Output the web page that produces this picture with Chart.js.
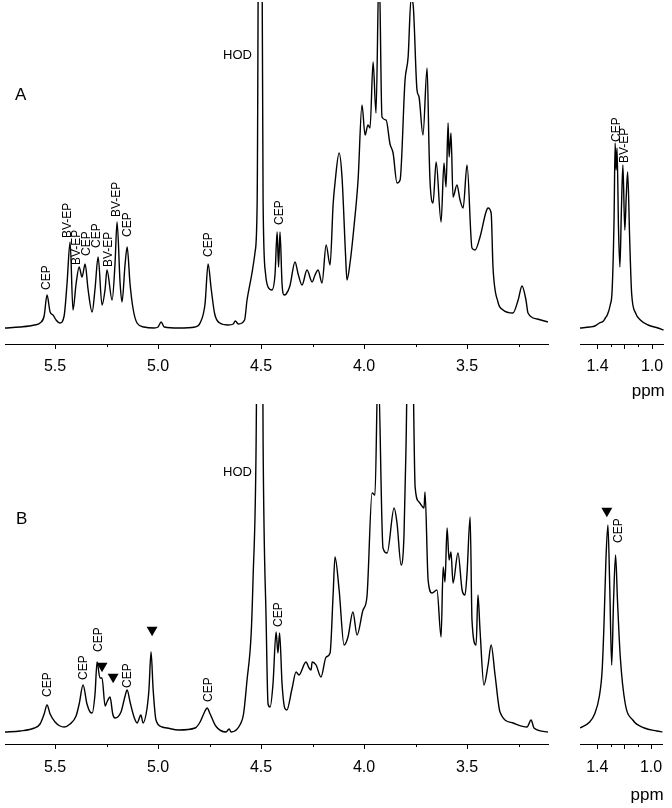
<!DOCTYPE html>
<html><head><meta charset="utf-8">
<script src="https://cdn.jsdelivr.net/npm/chart.js@4.4.1/dist/chart.umd.min.js"></script>
<style>
html,body{margin:0;padding:0;background:#fff;}
body{width:672px;height:808px;position:relative;overflow:hidden;font-family:"Liberation Sans",Arial,sans-serif;}
.box{position:absolute;}
.box canvas{display:block;}
.tag{position:absolute;font-size:17px;line-height:17px;color:#000;}
</style></head><body>
<div class="box" style="left:0;top:0;width:560px;height:420px"><canvas id="aMain" width="560" height="420"></canvas></div>
<div class="box" style="left:570px;top:0;width:102px;height:420px"><canvas id="aSide" width="102" height="420"></canvas></div>
<div class="box" style="left:0;top:400px;width:560px;height:408px"><canvas id="bMain" width="560" height="408"></canvas></div>
<div class="box" style="left:570px;top:400px;width:102px;height:408px"><canvas id="bSide" width="102" height="408"></canvas></div>
<div class="tag" style="left:15px;top:86px">A</div>
<div class="tag" style="left:16px;top:510px">B</div>
<script>
// ---------- data (chemical shift in ppm, relative intensity) ----------
const aMainPpm = [5.743,5.670,5.600,5.573,5.553,5.539,5.524,5.510,5.495,5.476,5.456,5.442,5.427,5.413,5.398,5.383,5.369,5.354,5.340,5.320,5.306,5.291,5.272,5.257,5.248,5.223,5.209,5.199,5.184,5.175,5.160,5.150,5.136,5.121,5.102,5.068,5.020,5.000,4.985,4.970,4.900,4.820,4.796,4.772,4.757,4.742,4.725,4.700,4.660,4.635,4.625,4.610,4.580,4.568,4.544,4.529,4.519,4.505,4.490,4.478,4.466,4.447,4.432,4.422,4.415,4.408,4.398,4.388,4.378,4.360,4.335,4.320,4.301,4.277,4.252,4.238,4.223,4.204,4.184,4.165,4.150,4.141,4.121,4.107,4.090,4.083,4.068,4.049,4.029,4.010,3.995,3.981,3.971,3.956,3.942,3.927,3.913,3.893,3.874,3.859,3.840,3.825,3.801,3.786,3.772,3.762,3.743,3.733,3.714,3.694,3.684,3.680,3.665,3.650,3.626,3.612,3.602,3.592,3.587,3.578,3.568,3.549,3.534,3.519,3.500,3.476,3.461,3.437,3.408,3.398,3.383,3.374,3.350,3.325,3.277,3.252,3.233,3.214,3.204,3.160,3.107];
const aMainInt = [16,17,19,21,28,49,32,29,24,21,28,60,102,34,60,77,67,80,55,32,55,87,39,55,74,44,80,122,60,42,80,97,60,35,21,17,16,17,22,17,16,17,21,40,80,55,30,21,19,20,23,20,24,44,71,92,140,800,140,70,57,54,70,112,77,112,60,49,50,58,82,70,59,74,62,69,74,61,99,79,140,161,191,167,90,64,81,117,164,239,209,219,216,282,231,380,227,224,200,191,161,164,264,287,345,340,254,247,209,276,191,164,141,182,122,181,157,221,187,211,147,159,144,136,179,96,94,107,132,136,131,77,42,34,31,44,58,44,31,25,22];

const aSidePpm = [1.529,1.457,1.420,1.386,1.357,1.343,1.329,1.307,1.293,1.279,1.271,1.264,1.257,1.246,1.236,1.225,1.214,1.200,1.189,1.179,1.164,1.150,1.121,1.086,1.029,0.957,0.914];
const aSideInt = [16,17,18,21,23,26,29,39,54,124,201,174,196,114,77,134,179,114,149,172,104,51,31,24,19,16,14];

const bMainPpm = [5.743,5.670,5.600,5.573,5.553,5.539,5.524,5.500,5.476,5.456,5.427,5.398,5.383,5.364,5.345,5.330,5.320,5.306,5.296,5.282,5.272,5.257,5.248,5.233,5.220,5.209,5.180,5.160,5.150,5.136,5.115,5.102,5.083,5.073,5.054,5.044,5.034,5.024,5.010,4.980,4.956,4.900,4.820,4.796,4.772,4.762,4.747,4.720,4.670,4.655,4.645,4.600,4.585,4.568,4.548,4.539,4.524,4.505,4.490,4.475,4.466,4.456,4.442,4.427,4.418,4.410,4.398,4.385,4.375,4.350,4.330,4.316,4.282,4.267,4.257,4.252,4.233,4.209,4.184,4.165,4.150,4.141,4.121,4.097,4.078,4.054,4.034,4.005,3.986,3.961,3.947,3.932,3.908,3.888,3.854,3.840,3.820,3.806,3.796,3.786,3.767,3.752,3.733,3.709,3.704,3.689,3.670,3.646,3.626,3.616,3.607,3.597,3.587,3.578,3.568,3.544,3.524,3.510,3.500,3.485,3.476,3.456,3.447,3.437,3.418,3.398,3.383,3.364,3.340,3.277,3.209,3.189,3.175,3.107];
const bMainInt = [12,13,16,20,30,39,30,22,18,17,20,28,40,59,40,32,31,50,82,66,66,38,42,47,30,26,32,48,54,42,26,21,29,21,35,55,92,55,24,17,16,14,16,22,33,36,30,18,12,15,12,20,30,64,110,164,300,900,300,120,40,37,60,112,91,111,60,36,34,55,72,69,82,76,74,82,79,67,87,91,150,187,154,99,107,132,109,134,147,251,249,380,196,191,236,221,179,209,300,420,420,257,242,236,252,164,151,154,107,177,162,216,184,192,161,191,154,149,171,227,124,99,149,114,59,79,99,69,32,21,17,24,16,12];

const bSidePpm = [1.529,1.457,1.420,1.386,1.364,1.350,1.336,1.321,1.307,1.293,1.279,1.264,1.250,1.229,1.193,1.136,1.050,0.957,0.914];
const bSideInt = [16,22,30,47,74,121,184,219,154,79,144,189,144,87,41,24,16,13,12];

// axis ticks (ppm)
const mainTicks = [5.5,5.0,4.5,4.0,3.5];
const mainMinor = [5.25,4.75,4.25,3.75,3.25];
const sideTicks = [1.4,1.2,1.0];
const sideTickLabels = [1.4,1.0];
const sideMinor = [1.3,1.1];
const axisTitle = 'ppm';

// peak assignments
const aMainLabelText = ['CEP','BV-EP','BV-EP','CEP','CEP','BV-EP','BV-EP','CEP','CEP','CEP'];
const aMainLabelPpm = [5.539,5.437,5.393,5.345,5.296,5.238,5.199,5.146,4.752,4.408];
const aMainLabelInt = [54,106,79,88,96,77,127,107,87,119];
const aSideLabelText = ['CEP','BV-EP'];
const aSideLabelPpm = [1.258,1.202];
const aSideLabelInt = [202,181];
const bMainLabelText = ['CEP','CEP','CEP','CEP','CEP','CEP'];
const bMainLabelPpm = [5.534,5.359,5.286,5.146,4.752,4.413];
const bMainLabelInt = [47,64,92,56,42,117];
const bSideLabelText = ['CEP'];
const bSideLabelPpm = [1.238];
const bSideLabelInt = [201];
const hodText = 'HOD';
const aHodPpm = 4.544, aHodInt = 289;
const bHodPpm = 4.544, bHodInt = 272;

// new signals (filled triangles)
const bMainMarkPpm = [5.029,5.272,5.218];
const bMainMarkInt = [114,78,67];
const bSideMarkPpm = [1.329];
const bSideMarkInt = [233];

// ---------- drawing ----------
const FONT = '"Liberation Sans", Arial, Helvetica, sans-serif';

const annot = {
  id: 'annot',
  afterDatasetsDraw(chart, args, o) {
    const ctx = chart.ctx, xs = chart.scales.x, ys = chart.scales.y;
    const area = chart.chartArea;
    ctx.save();
    ctx.strokeStyle = '#000'; ctx.lineWidth = 1;
    const yb = area.bottom;
    (o.minor || []).forEach(v => {
      const px = Math.round(xs.getPixelForValue(v)) + 0.5;
      ctx.beginPath(); ctx.moveTo(px, yb); ctx.lineTo(px, yb + 3); ctx.stroke();
    });
    ctx.fillStyle = '#000';
    ctx.font = '12px ' + FONT;
    const t = o.text || [], p = o.ppm || [], v = o.inten || [];
    t.forEach((s, i) => {
      const px = xs.getPixelForValue(p[i]), py = ys.getPixelForValue(v[i]);
      ctx.save(); ctx.translate(px, py); ctx.rotate(-Math.PI / 2);
      ctx.textAlign = 'left'; ctx.textBaseline = 'middle';
      ctx.fillText(s, 0, 0); ctx.restore();
    });
    if (o.hod) {
      ctx.font = '13px ' + FONT;
      ctx.textAlign = 'right'; ctx.textBaseline = 'middle';
      ctx.fillText(o.hod.text, xs.getPixelForValue(o.hod.ppm), ys.getPixelForValue(o.hod.inten));
    }
    if (o.title) {
      ctx.font = '17px ' + FONT;
      ctx.textAlign = 'right'; ctx.textBaseline = 'middle';
      ctx.fillText(o.title, area.right + 1, area.bottom + o.titleOff);
    }
    ctx.restore();
  }
};

function pts(xa, ya) { return xa.map((x, i) => ({ x: x, y: ya[i] })); }

function makeChart(id, c) {
  const datasets = [{
    type: 'line', data: pts(c.ppm, c.inten), borderColor: '#000', borderWidth: 1.4,
    pointRadius: 0, pointHoverRadius: 0, fill: false, cubicInterpolationMode: 'monotone'
  }];
  if (c.marks) datasets.push({
    type: 'scatter', data: c.marks, pointStyle: 'triangle', rotation: 180, pointRadius: 6.3,
    backgroundColor: '#000', borderColor: '#000', borderWidth: 0, showLine: false
  });
  return new Chart(document.getElementById(id), {
    type: 'line',
    data: { datasets },
    plugins: [annot],
    options: {
      responsive: false, animation: false, events: [],
      layout: { autoPadding: false, padding: { top: c.padTop, left: c.padLeft, right: c.padRight, bottom: 0 } },
      plugins: {
        legend: { display: false }, tooltip: { enabled: false },
        annot: { minor: c.minor, text: c.lt, ppm: c.lp, inten: c.li, hod: c.hod, title: c.title, titleOff: c.titleOff }
      },
      scales: {
        x: {
          type: 'linear', reverse: true, min: c.xmin, max: c.xmax,
          afterBuildTicks: s => { s.ticks = c.ticks.map(v => ({ value: v })); },
          afterFit: s => { s.height = c.axisH; },
          ticks: {
            color: '#000', font: { size: 16, family: FONT }, padding: c.tickPad, maxRotation: 0, autoSkip: false,
            callback: v => c.tickLabels.some(t => Math.abs(t - v) < 1e-6) ? Number(v).toFixed(1) : ''
          },
          grid: { display: true, drawOnChartArea: false, drawTicks: true, tickLength: 5, color: '#000', tickColor: '#000', lineWidth: 1 },
          border: { display: true, color: '#000', width: 1 },
          title: { display: false }
        },
        y: { display: false, min: 0, max: c.ymax }
      }
    }
  });
}

makeChart('aMain', {
  ppm: aMainPpm, inten: aMainInt, xmin: 3.107, xmax: 5.743, ymax: 342,
  ticks: mainTicks, tickLabels: mainTicks, minor: mainMinor,
  padTop: 2, padLeft: 5, padRight: 12, axisH: 76, tickPad: 8,
  lt: aMainLabelText, lp: aMainLabelPpm, li: aMainLabelInt,
  hod: { text: hodText, ppm: aHodPpm, inten: aHodInt }
});
makeChart('aSide', {
  ppm: aSidePpm, inten: aSideInt, xmin: 0.914, xmax: 1.529, ymax: 342,
  ticks: sideTicks, tickLabels: sideTickLabels, minor: sideMinor,
  padTop: 2, padLeft: 10, padRight: 6, axisH: 76, tickPad: 8,
  lt: aSideLabelText, lp: aSideLabelPpm, li: aSideLabelInt,
  title: axisTitle, titleOff: 47
});
makeChart('bMain', {
  ppm: bMainPpm, inten: bMainInt, xmin: 3.107, xmax: 5.743, ymax: 340,
  ticks: mainTicks, tickLabels: mainTicks, minor: mainMinor,
  padTop: 4, padLeft: 5, padRight: 12, axisH: 64, tickPad: 9,
  lt: bMainLabelText, lp: bMainLabelPpm, li: bMainLabelInt,
  hod: { text: hodText, ppm: bHodPpm, inten: bHodInt },
  marks: pts(bMainMarkPpm, bMainMarkInt)
});
makeChart('bSide', {
  ppm: bSidePpm, inten: bSideInt, xmin: 0.914, xmax: 1.529, ymax: 340,
  ticks: sideTicks, tickLabels: sideTickLabels, minor: sideMinor,
  padTop: 4, padLeft: 10, padRight: 6, axisH: 64, tickPad: 9,
  lt: bSideLabelText, lp: bSideLabelPpm, li: bSideLabelInt,
  title: axisTitle, titleOff: 51,
  marks: pts(bSideMarkPpm, bSideMarkInt)
});
</script>
</body></html>
